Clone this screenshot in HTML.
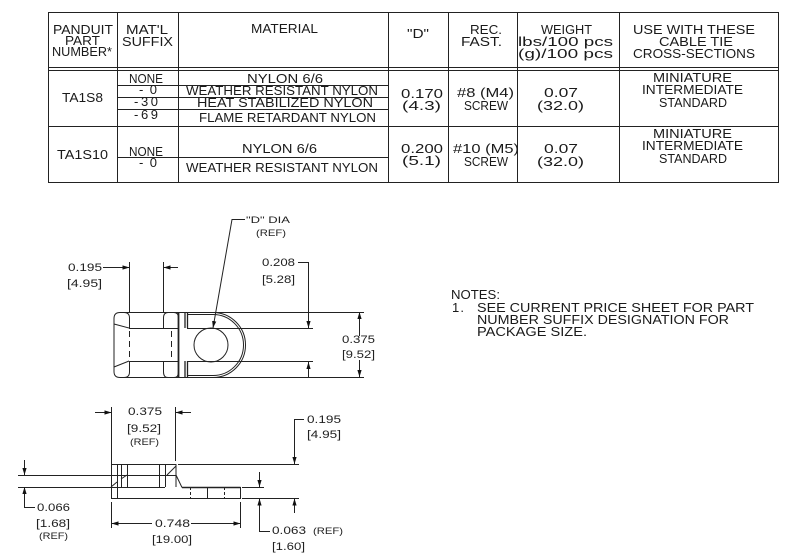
<!DOCTYPE html>
<html><head><meta charset="utf-8"><style>
html,body{margin:0;padding:0;background:#fff}
svg{display:block}
text{font-family:"Liberation Sans",sans-serif;fill:#1a1a1a;font-size:13px}
.d text{font-size:11px;fill:#222}
.s text{font-size:9.5px;fill:#222}
.l{stroke:#222;stroke-width:1;fill:none}
.h{stroke:#222;stroke-width:1;fill:none;stroke-dasharray:6 4}
</style></head><body>
<svg width="790" height="558" viewBox="0 0 790 558" xmlns="http://www.w3.org/2000/svg">
<defs><marker id="a" markerUnits="userSpaceOnUse" markerWidth="7" markerHeight="5" refX="7" refY="2.5" orient="auto-start-reverse"><path d="M0 0.4L7 2.5L0 4.6Z" fill="#111"/></marker></defs>

<!-- table -->
<g class="l" shape-rendering="crispEdges">
<rect x="48.5" y="12.5" width="730" height="170" stroke-width="1.3"/>
<path d="M117.5 12V182M178.5 12V182M388.5 12V182M448.5 12V182M517.5 12V182M619.5 12V182"/>
<path d="M48 67.5H778M48 70.5H778M48 126.5H778"/>
<path d="M117 85.5H388M117 97.5H388M117 109.5H388M117 157.5H388"/>
</g>
<g>
<text x="53" y="34" textLength="60" lengthAdjust="spacingAndGlyphs">PANDUIT</text>
<text x="65" y="45" textLength="35" lengthAdjust="spacingAndGlyphs">PART</text>
<text x="52" y="56" textLength="60" lengthAdjust="spacingAndGlyphs">NUMBER*</text>
<text x="126" y="34" textLength="42" lengthAdjust="spacingAndGlyphs">MAT'L</text>
<text x="122" y="46" textLength="51" lengthAdjust="spacingAndGlyphs">SUFFIX</text>
<text x="251" y="33" textLength="67" lengthAdjust="spacingAndGlyphs">MATERIAL</text>
<text x="407" y="38" textLength="22" lengthAdjust="spacingAndGlyphs">"D"</text>
<text x="470" y="34" textLength="32" lengthAdjust="spacingAndGlyphs">REC.</text>
<text x="461" y="46" textLength="41" lengthAdjust="spacingAndGlyphs">FAST.</text>
<text x="541" y="34" textLength="51" lengthAdjust="spacingAndGlyphs">WEIGHT</text>
<text x="518" y="46" textLength="95" lengthAdjust="spacingAndGlyphs">lbs/100 pcs</text>
<text x="518" y="58" textLength="95" lengthAdjust="spacingAndGlyphs">(g)/100 pcs</text>
<text x="633" y="34" textLength="122" lengthAdjust="spacingAndGlyphs">USE WITH THESE</text>
<text x="659" y="46" textLength="74" lengthAdjust="spacingAndGlyphs">CABLE TIE</text>
<text x="633" y="58" textLength="122" lengthAdjust="spacingAndGlyphs">CROSS-SECTIONS</text>

<text x="62" y="102" textLength="41" lengthAdjust="spacingAndGlyphs">TA1S8</text>
<text x="57" y="159" textLength="51" lengthAdjust="spacingAndGlyphs">TA1S10</text>

<text x="129" y="83" textLength="34" lengthAdjust="spacingAndGlyphs">NONE</text>
<text x="139" y="94" textLength="18" lengthAdjust="spacing">-0</text>
<text x="134" y="106" textLength="24" lengthAdjust="spacing">-30</text>
<text x="134" y="119" textLength="24" lengthAdjust="spacing">-69</text>
<text x="129" y="156" textLength="34" lengthAdjust="spacingAndGlyphs">NONE</text>
<text x="139" y="167" textLength="18" lengthAdjust="spacing">-0</text>

<text x="247" y="83" textLength="76" lengthAdjust="spacingAndGlyphs">NYLON 6/6</text>
<text x="186" y="95" textLength="192" lengthAdjust="spacingAndGlyphs">WEATHER RESISTANT NYLON</text>
<text x="197" y="107" textLength="176" lengthAdjust="spacingAndGlyphs">HEAT STABILIZED NYLON</text>
<text x="199" y="122" textLength="177" lengthAdjust="spacingAndGlyphs">FLAME RETARDANT NYLON</text>
<text x="242" y="153" textLength="75" lengthAdjust="spacingAndGlyphs">NYLON 6/6</text>
<text x="186" y="172" textLength="192" lengthAdjust="spacingAndGlyphs">WEATHER RESISTANT NYLON</text>

<text x="401" y="98" textLength="42" lengthAdjust="spacingAndGlyphs">0.170</text>
<text x="402" y="110" textLength="39" lengthAdjust="spacingAndGlyphs">(4.3)</text>
<text x="401" y="153" textLength="42" lengthAdjust="spacingAndGlyphs">0.200</text>
<text x="402" y="165" textLength="39" lengthAdjust="spacingAndGlyphs">(5.1)</text>

<text x="457" y="97" textLength="57" lengthAdjust="spacingAndGlyphs">#8 (M4)</text>
<text x="464" y="110" textLength="44" lengthAdjust="spacingAndGlyphs">SCREW</text>
<text x="453" y="153" textLength="66" lengthAdjust="spacingAndGlyphs">#10 (M5)</text>
<text x="464" y="166" textLength="44" lengthAdjust="spacingAndGlyphs">SCREW</text>

<text x="544" y="97" textLength="34" lengthAdjust="spacingAndGlyphs">0.07</text>
<text x="537" y="110" textLength="47" lengthAdjust="spacingAndGlyphs">(32.0)</text>
<text x="544" y="153" textLength="34" lengthAdjust="spacingAndGlyphs">0.07</text>
<text x="537" y="166" textLength="47" lengthAdjust="spacingAndGlyphs">(32.0)</text>

<text x="653" y="82" textLength="79" lengthAdjust="spacingAndGlyphs">MINIATURE</text>
<text x="642" y="94" textLength="101" lengthAdjust="spacingAndGlyphs">INTERMEDIATE</text>
<text x="659" y="107" textLength="68" lengthAdjust="spacingAndGlyphs">STANDARD</text>
<text x="653" y="138" textLength="79" lengthAdjust="spacingAndGlyphs">MINIATURE</text>
<text x="642" y="150" textLength="101" lengthAdjust="spacingAndGlyphs">INTERMEDIATE</text>
<text x="659" y="163" textLength="68" lengthAdjust="spacingAndGlyphs">STANDARD</text>
</g>

<!-- notes -->
<g>
<text x="451" y="299" textLength="49" lengthAdjust="spacingAndGlyphs">NOTES:</text>
<text x="452" y="312" textLength="12" lengthAdjust="spacing">1.</text>
<text x="477" y="312" textLength="277" lengthAdjust="spacingAndGlyphs">SEE CURRENT PRICE SHEET FOR PART</text>
<text x="477" y="324" textLength="252" lengthAdjust="spacingAndGlyphs">NUMBER SUFFIX DESIGNATION FOR</text>
<text x="477" y="336" textLength="110" lengthAdjust="spacingAndGlyphs">PACKAGE SIZE.</text>
</g>

<!-- top view -->
<g class="l">
<path d="M129.5 328V318Q129.5 312.5 124 312.5H120Q114 312.5 114 318.5V371.5Q114 377.5 120 377.5H124Q129.5 377.5 129.5 372V361"/>
<path d="M163.5 328V318Q163.5 312.5 168 312.5H174Q178.5 312.5 178.5 318M163.5 361V372Q163.5 377.5 168 377.5H174Q178.5 377.5 178.5 372"/>
<path d="M124 312.5H213A32.5 32.5 0 0 1 213 377.5H124"/>
<path d="M187.5 314.5H213A30.5 30.5 0 0 1 213 375.5H187.5"/>
<path d="M178.5 312V377" stroke-width="1.8"/>
<path d="M185 312.5V328M185 361V377.5M187.5 312.5V328M187.5 361V377.5" stroke-width="1.3"/>
<path d="M129 328.5H178.5M129 361.5H178.5"/>
<path d="M187 328.5H313M187 361.5H313"/>
<circle cx="211" cy="345" r="17"/>
<path d="M114 324L129 328M114 367L129 361"/>
<path d="M213 312.5H364M213 377.5H364"/>
<path d="M308.5 262V328" marker-end="url(#a)"/>
<path d="M298 262.5H308.5"/>
<path d="M308.5 377V362" marker-end="url(#a)"/>
<path d="M359.5 336V312" marker-end="url(#a)"/>
<path d="M359.5 360V377" marker-end="url(#a)"/>
<path d="M129.5 262V312M163.5 262V312"/>
<path d="M103 267.5H129.5" marker-end="url(#a)"/>
<path d="M178 267.5H163.5" marker-end="url(#a)"/>
<path d="M245 219.5H232L213 328" marker-end="url(#a)"/>
</g>
<g class="h"><path d="M129.5 331V361M171.5 331V361"/></g>
<g class="d">
<text x="68" y="271" textLength="34" lengthAdjust="spacingAndGlyphs">0.195</text>
<text x="67" y="287" textLength="35" lengthAdjust="spacingAndGlyphs">[4.95]</text>
<text x="262" y="266" textLength="33" lengthAdjust="spacingAndGlyphs">0.208</text>
<text x="262" y="283" textLength="33" lengthAdjust="spacingAndGlyphs">[5.28]</text>
<text x="342" y="343" textLength="33" lengthAdjust="spacingAndGlyphs">0.375</text>
<text x="342" y="358" textLength="33" lengthAdjust="spacingAndGlyphs">[9.52]</text>
</g>
<g class="s">
<text x="246" y="223" textLength="44" lengthAdjust="spacingAndGlyphs">"D" DIA</text>
<text x="256" y="236" textLength="30" lengthAdjust="spacingAndGlyphs">(REF)</text>
</g>

<!-- side view -->
<g class="l">
<path d="M111.5 407V464M111.5 464V498M111.5 502V528M175.5 407V461"/>
<path d="M111 464.5H176M178 464.5H299"/>
<path d="M18 475.5H176M18 487.5H165"/>
<path d="M111 498.5H240.5V487"/>
<path d="M182 487.5H240.5" stroke-width="1.5"/>
<path d="M176 475L182 487.5"/>
<path d="M117.5 464V498M121.5 464V487M127.5 464V487M159.5 464V487M165.5 464V487M176 464V487"/>
<path d="M111 487L117 482M121 479L127 475M167 475L176 466"/>
<path d="M207.5 487V498"/>
<path d="M240.5 502V528"/>
<path d="M242 498.5H299M242 487.5H264"/>
<path d="M95 412.5H111.5" marker-end="url(#a)"/>
<path d="M191 412.5H175.5" marker-end="url(#a)"/>
<path d="M24.5 460V475" marker-end="url(#a)"/>
<path d="M35 507.5H24.5V487" marker-end="url(#a)"/>
<path d="M152 523.5H111.5" marker-end="url(#a)"/>
<path d="M191 523.5H240.5" marker-end="url(#a)"/>
<path d="M304 419.5H294.5V464" marker-end="url(#a)"/>
<path d="M294.5 513V498.5" marker-end="url(#a)"/>
<path d="M259.5 472V487" marker-end="url(#a)"/>
<path d="M270 531.5H259.5V498.5" marker-end="url(#a)"/>
</g>
<g class="l" stroke-dasharray="3 2"><path d="M190.5 487V498M224.5 487V498"/></g>
<g class="d">
<text x="128" y="415" textLength="34" lengthAdjust="spacingAndGlyphs">0.375</text>
<text x="127" y="432" textLength="34" lengthAdjust="spacingAndGlyphs">[9.52]</text>
<text x="307" y="423" textLength="34" lengthAdjust="spacingAndGlyphs">0.195</text>
<text x="307" y="438" textLength="34" lengthAdjust="spacingAndGlyphs">[4.95]</text>
<text x="37" y="511" textLength="33" lengthAdjust="spacingAndGlyphs">0.066</text>
<text x="36" y="527" textLength="34" lengthAdjust="spacingAndGlyphs">[1.68]</text>
<text x="155" y="527" textLength="35" lengthAdjust="spacingAndGlyphs">0.748</text>
<text x="152" y="543" textLength="40" lengthAdjust="spacingAndGlyphs">[19.00]</text>
<text x="272" y="534" textLength="34" lengthAdjust="spacingAndGlyphs">0.063</text>
<text x="272" y="550" textLength="33" lengthAdjust="spacingAndGlyphs">[1.60]</text>
</g>
<g class="s">
<text x="130" y="445" textLength="29" lengthAdjust="spacingAndGlyphs">(REF)</text>
<text x="39" y="539" textLength="29" lengthAdjust="spacingAndGlyphs">(REF)</text>
<text x="313" y="534" textLength="30" lengthAdjust="spacingAndGlyphs">(REF)</text>
</g>
</svg>
</body></html>
